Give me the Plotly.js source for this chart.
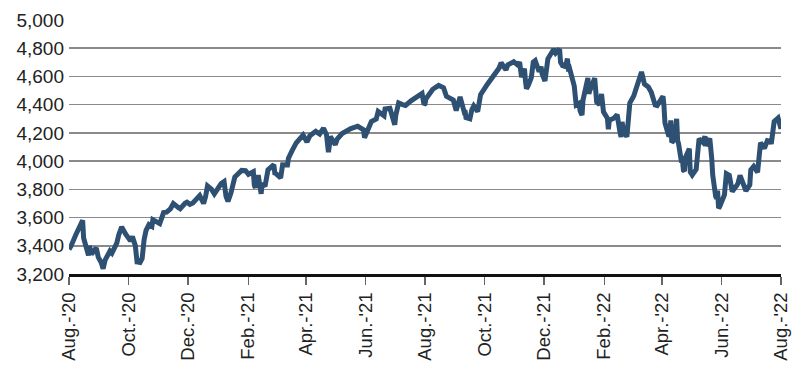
<!DOCTYPE html>
<html>
<head>
<meta charset="utf-8">
<script src="https://cdn.plot.ly/plotly-3.0.1.min.js"></script>
<style>html,body{margin:0;padding:0;background:#fff;}#chart{width:800px;height:367px;}</style>
</head>
<body>
<div id="chart"></div>
<script>
const dates = [
"2020-08-19","2020-08-21","2020-08-26","2020-08-28","2020-09-02","2020-09-03","2020-09-04","2020-09-08","2020-09-09","2020-09-11",
"2020-09-16","2020-09-18","2020-09-23","2020-09-25","2020-09-30","2020-10-02","2020-10-07","2020-10-09","2020-10-12","2020-10-16",
"2020-10-21","2020-10-23","2020-10-28","2020-10-30","2020-11-02","2020-11-04","2020-11-06","2020-11-09","2020-11-12","2020-11-13",
"2020-11-18","2020-11-20","2020-11-24","2020-11-27","2020-12-01","2020-12-04","2020-12-09","2020-12-11","2020-12-16","2020-12-18",
"2020-12-21","2020-12-24","2020-12-31","2021-01-04","2021-01-08","2021-01-12","2021-01-15","2021-01-22","2021-01-25","2021-01-27",
"2021-01-29","2021-02-01","2021-02-05","2021-02-12","2021-02-16","2021-02-19","2021-02-24","2021-02-25","2021-02-26","2021-03-01",
"2021-03-04","2021-03-05","2021-03-08","2021-03-11","2021-03-17","2021-03-18","2021-03-19","2021-03-24","2021-03-26","2021-03-31",
"2021-04-01","2021-04-05","2021-04-09","2021-04-16","2021-04-20","2021-04-23","2021-04-29","2021-05-03","2021-05-07","2021-05-12",
"2021-05-14","2021-05-19","2021-05-21","2021-05-26","2021-05-28","2021-06-04","2021-06-11","2021-06-16","2021-06-18","2021-06-21",
"2021-06-25","2021-06-30","2021-07-02","2021-07-08","2021-07-09","2021-07-14","2021-07-16","2021-07-19","2021-07-23","2021-07-27",
"2021-07-30","2021-08-05","2021-08-12","2021-08-16","2021-08-18","2021-08-20","2021-08-27","2021-09-02","2021-09-07","2021-09-10",
"2021-09-14","2021-09-17","2021-09-20","2021-09-24","2021-09-28","2021-09-30","2021-10-04","2021-10-08","2021-10-12","2021-10-15",
"2021-10-22","2021-10-29","2021-11-05","2021-11-10","2021-11-12","2021-11-18","2021-11-22","2021-11-26","2021-11-29","2021-11-30",
"2021-12-01","2021-12-03","2021-12-08","2021-12-10","2021-12-14","2021-12-17","2021-12-20","2021-12-23","2021-12-29","2021-12-31",
"2022-01-03","2022-01-04","2022-01-05","2022-01-10","2022-01-12","2022-01-14","2022-01-19","2022-01-21","2022-01-24","2022-01-27",
"2022-01-28","2022-02-02","2022-02-03","2022-02-09","2022-02-11","2022-02-14","2022-02-16","2022-02-18","2022-02-23","2022-02-24",
"2022-03-01","2022-03-04","2022-03-08","2022-03-11","2022-03-17","2022-03-21","2022-03-25","2022-03-29","2022-04-01","2022-04-05",
"2022-04-08","2022-04-12","2022-04-14","2022-04-20","2022-04-22","2022-04-26","2022-04-28","2022-04-29","2022-05-04","2022-05-06",
"2022-05-09","2022-05-11","2022-05-12","2022-05-13","2022-05-17","2022-05-18","2022-05-20","2022-05-27","2022-06-02","2022-06-03",
"2022-06-07","2022-06-10","2022-06-13","2022-06-16","2022-06-17","2022-06-24","2022-06-30","2022-07-05","2022-07-08","2022-07-14",
"2022-07-22","2022-07-29","2022-08-02","2022-08-05","2022-08-10","2022-08-12","2022-08-16","2022-08-19",
"2020-09-21","2020-10-26","2020-10-29","2021-01-06","2021-03-03","2021-05-10","2021-05-13","2021-06-17","2021-07-20","2021-08-19",
"2021-09-29","2021-10-06","2021-11-03","2021-11-24","2021-12-06","2021-12-16","2022-01-07","2022-01-13","2022-01-20","2022-01-25",
"2022-02-04","2022-02-10","2022-02-22","2022-03-07","2022-03-09","2022-03-14","2022-03-15","2022-04-21","2022-04-27","2022-05-02",
"2022-05-05","2022-05-10","2022-05-19","2022-05-24","2022-05-31","2022-06-09","2022-06-14","2022-06-15","2022-06-22","2022-06-27",
"2022-07-06","2022-07-13","2022-07-18","2022-07-19","2022-07-26","2022-08-08","2022-08-09"
];
const values = [
3375,3397,3478,3508,3580,3455,3427,3332,3399,3341,
3385,3319,3237,3298,3363,3348,3419,3477,3534,3484,
3435,3465,3271,3270,3310,3443,3509,3550,3537,3585,
3568,3557,3635,3638,3662,3699,3672,3663,3701,3709,
3694,3703,3756,3700,3824,3801,3768,3841,3855,3750,
3714,3774,3887,3934,3932,3907,3925,3829,3811,3901,
3768,3842,3821,3939,3974,3915,3913,3881,3974,3973,
4020,4078,4129,4185,4135,4180,4211,4192,4233,4063,
4174,4116,4156,4195,4204,4230,4247,4223,4166,4224,
4281,4298,4352,4321,4370,4374,4327,4258,4412,4401,
4395,4429,4460,4479,4400,4442,4509,4537,4520,4459,
4443,4433,4358,4455,4353,4308,4300,4391,4351,4471,
4545,4605,4697,4646,4682,4704,4682,4595,4655,4567,
4513,4538,4701,4712,4634,4620,4568,4725,4793,4766,
4797,4794,4700,4670,4726,4663,4533,4398,4410,4326,
4432,4589,4477,4587,4419,4401,4475,4349,4226,4289,
4306,4329,4171,4204,4412,4461,4543,4632,4546,4525,
4488,4397,4393,4460,4272,4175,4288,4132,4300,4123,
3991,3935,3930,4024,4088,3923,3901,4158,4177,4109,
4161,3901,3750,3667,3675,3912,3785,3831,3899,3790,
3962,4130,4091,4145,4210,4280,4305,4228,
3281,3401,3310,3748,3820,4188,4112,4222,4323,4406,
4359,4363,4660,4701,4592,4669,4677,4659,4483,4357,
4500,4504,4304,4201,4278,4173,4262,4393,4183,4155,
4147,4001,3901,3941,4132,4018,3735,3790,3760,3900,
3845,3801,3831,3937,3921,4140,4122
];
const tickDates = ["2020-08-19","2020-10-19","2020-12-19","2021-02-19","2021-04-19","2021-06-19","2021-08-19","2021-10-19","2021-12-19","2022-02-19","2022-04-19","2022-06-19","2022-08-19"];
const tickLabels = ["Aug.-'20","Oct.-'20","Dec.-'20","Feb.-'21","Apr.-'21","Jun.-'21","Aug.-'21","Oct.-'21","Dec.-'21","Feb.-'22","Apr.-'22","Jun.-'22","Aug.-'22"];
const yTicks = [3200,3400,3600,3800,4000,4200,4400,4600,4800,5000];
const yLabels = ["3,200","3,400","3,600","3,800","4,000","4,200","4,400","4,600","4,800","5,000"];

// sort points by date so the line is drawn in time order
const order = dates.map((d, i) => i).sort((a, b) => dates[a] < dates[b] ? -1 : dates[a] > dates[b] ? 1 : 0);
const xs = order.map(i => dates[i]);
const ys = order.map(i => values[i]);

Plotly.newPlot('chart', [{
  x: xs, y: ys, type: 'scatter', mode: 'lines',
  line: {color: '#2e5073', width: 5, shape: 'linear'},
  hoverinfo: 'skip'
}], {
  width: 800, height: 367,
  margin: {l: 69, r: 19, t: 20, b: 93},
  paper_bgcolor: '#fff', plot_bgcolor: '#fff',
  showlegend: false,
  xaxis: {
    type: 'date', range: ['2020-08-19', '2022-08-19'],
    tickmode: 'array', tickvals: tickDates, ticktext: tickLabels,
    tickangle: -90, ticks: 'outside', ticklen: 8, tickwidth: 1.5, tickcolor: '#666',
    showgrid: false, zeroline: false,
    showline: true, linecolor: '#111', linewidth: 3,
    tickfont: {family: '"Liberation Sans", Arial, sans-serif', size: 18.5, color: '#222'}
  },
  yaxis: {
    range: [3200, 5000], tickmode: 'array', tickvals: yTicks, ticktext: yLabels,
    showgrid: true, gridcolor: '#8a8a8a', gridwidth: 1.5,
    zeroline: false, showline: false, ticks: '', ticklabelstandoff: 4,
    tickfont: {family: '"Liberation Sans", Arial, sans-serif', size: 19, color: '#222'}
  }
}, {staticPlot: true, displayModeBar: false});
</script>
</body>
</html>
